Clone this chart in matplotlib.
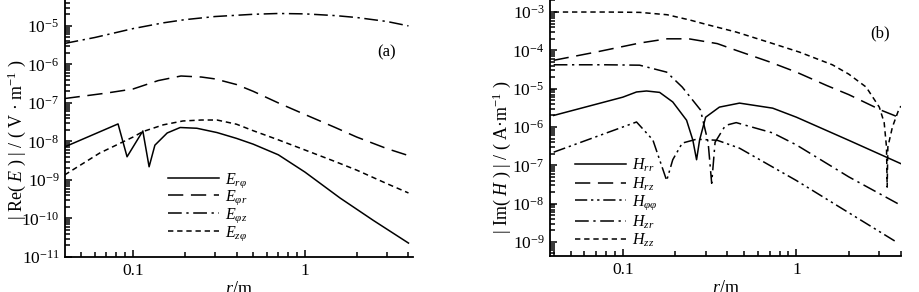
import matplotlib
matplotlib.use("Agg")
import matplotlib.pyplot as plt
from matplotlib.ticker import LogLocator, NullFormatter

plt.rcParams['font.family'] = ['Liberation Serif', 'DejaVu Serif']
plt.rcParams['mathtext.fontset'] = 'custom'
plt.rcParams['mathtext.rm'] = 'Liberation Serif'
plt.rcParams['mathtext.it'] = 'Liberation Serif:italic'
plt.rcParams['mathtext.bf'] = 'Liberation Serif:bold'
plt.rcParams['axes.unicode_minus'] = False

# ---------------- panel (a) data ----------------
r_E_rphi = [0.04, 0.0818, 0.0923, 0.114, 0.124, 0.134, 0.158, 0.188, 0.235, 0.308, 0.4, 0.5, 0.7, 1.0, 1.6, 2.5, 4.0]
E_rphi   = [7.2e-9, 2.85e-8, 4.0e-9, 1.87e-8, 2.2e-9, 8e-9, 1.66e-8, 2.3e-8, 2.2e-8, 1.7e-8, 1.2e-8, 8.5e-9, 4.5e-9, 1.6e-9, 3.4e-10, 8.9e-11, 2.3e-11]

r_E_phir = [0.04, 0.07, 0.1, 0.14, 0.19, 0.25, 0.3, 0.4, 0.5, 0.7, 1.0, 1.5, 2.0, 3.0, 4.0]
E_phir   = [1.3e-7, 1.8e-7, 2.3e-7, 3.8e-7, 5e-7, 4.7e-7, 4.2e-7, 3e-7, 2e-7, 1e-7, 5e-8, 2.3e-8, 1.3e-8, 6.5e-9, 4.3e-9]

r_E_phiz = [0.04, 0.06, 0.1, 0.15, 0.2, 0.3, 0.5, 0.7, 1.0, 1.5, 2.0, 3.0, 4.0]
E_phiz   = [3.5e-6, 5e-6, 8.5e-6, 1.2e-5, 1.45e-5, 1.75e-5, 2.0e-5, 2.1e-5, 2.05e-5, 1.85e-5, 1.65e-5, 1.3e-5, 1.0e-5]

r_E_zphi = [0.04, 0.064, 0.1, 0.114, 0.15, 0.195, 0.25, 0.308, 0.4, 0.5, 0.7, 1.0, 1.5, 2.0, 3.0, 4.0]
E_zphi   = [1.35e-9, 5e-9, 1.3e-8, 1.8e-8, 2.7e-8, 3.4e-8, 3.6e-8, 3.6e-8, 2.8e-8, 1.9e-8, 1.1e-8, 6e-9, 3e-9, 1.8e-9, 8e-10, 4.6e-10]

# ---------------- panel (b) data ----------------
r_H_rr = [0.04, 0.1, 0.12, 0.137, 0.163, 0.194, 0.233, 0.253, 0.266, 0.277, 0.30, 0.36, 0.47, 0.73, 1.0, 2.0, 4.0]
H_rr   = [2e-6, 6e-6, 8.2e-6, 8.7e-6, 8e-6, 4.5e-6, 1.5e-6, 4.6e-7, 1.4e-7, 4.6e-7, 1.8e-6, 3.3e-6, 4.2e-6, 3.1e-6, 1.8e-6, 4.5e-7, 1.1e-7]

r_H_rz = [0.04, 0.07, 0.125, 0.18, 0.24, 0.35, 0.45, 0.7, 1.0, 1.5, 2.0, 3.1, 4.0]
H_rz   = [5.5e-5, 9e-5, 1.55e-4, 2e-4, 2e-4, 1.5e-4, 1e-4, 5e-5, 2.7e-5, 1.2e-5, 7e-6, 2.7e-6, 1.7e-6]

r_H_phiphi = [0.04, 0.12, 0.149, 0.179, 0.194, 0.22, 0.266, 0.35, 0.47, 0.73, 1.0, 2.0, 3.76]
H_phiphi   = [2.2e-7, 1.35e-6, 4.6e-7, 4e-8, 1.4e-7, 3.8e-7, 4.8e-7, 4.5e-7, 2.8e-7, 9e-8, 4e-8, 5.8e-9, 1e-9]

r_H_zr = [0.04, 0.08, 0.125, 0.179, 0.194, 0.22, 0.28, 0.31, 0.325, 0.34, 0.39, 0.45, 0.73, 1.0, 2.0, 4.0]
H_zr   = [4.2e-5, 4.2e-5, 4.1e-5, 2.7e-5, 1.9e-5, 1.1e-5, 2.8e-6, 4e-7, 3.4e-8, 4e-7, 1.1e-6, 1.3e-6, 7e-7, 3.4e-7, 5e-8, 9e-9]

r_H_zz = [0.04, 0.08, 0.125, 0.18, 0.243, 0.3, 0.45, 0.7, 1.04, 1.61, 2.0, 2.52, 3.0, 3.2, 3.3, 3.33, 3.36, 3.57, 3.9, 4.0]
H_zz   = [1e-3, 1e-3, 9.8e-4, 8.5e-4, 6.2e-4, 4.8e-4, 3e-4, 1.6e-4, 9e-5, 4.2e-5, 2.4e-5, 1.1e-5, 3.3e-6, 1.3e-6, 3e-7, 2.7e-8, 3e-7, 1e-6, 3e-6, 3.5e-6]

labels_a = [r'$E_{r\varphi}$', r'$E_{\varphi r}$', r'$E_{\varphi z}$', r'$E_{z\varphi}$']
labels_b = [r'$H_{rr}$', r'$H_{rz}$', r'$H_{\varphi\varphi}$', r'$H_{zr}$', r'$H_{zz}$']

SOLID = '-'
DASH = (0, (10, 5))
DASHDOT = (0, (9, 3, 1.5, 3))
SHORT = (0, (3.5, 2.5))
DASHDOTDOT = (0, (8, 2.5, 1.5, 2.5, 1.5, 2.5))

W, H = 920, 292
fig = plt.figure(figsize=(W / 100, H / 100), dpi=100)

def px_axes(x0, x1, ytop, ybot):
    return fig.add_axes([x0 / W, 1 - ybot / H, (x1 - x0) / W, (ybot - ytop) / H])

axa = px_axes(65, 413, 0, 257)
axb = px_axes(550, 901, 0, 256)

lw = 1.1
for ax in (axa, axb):
    ax.set_xscale('log')
    ax.set_yscale('log')
    for s in ('top', 'right'):
        ax.spines[s].set_visible(False)
    for s in ('left', 'bottom'):
        ax.spines[s].set_linewidth(1.3)
    ax.tick_params(which='both', direction='in', width=1.1, labelsize=12.5, pad=4)
    ax.tick_params(which='major', length=5)
    ax.tick_params(which='minor', length=3.5)
    ax.yaxis.set_major_locator(LogLocator(base=10, numticks=20))
    ax.yaxis.set_minor_locator(LogLocator(base=10, subs=range(2, 10), numticks=20))
    ax.yaxis.set_minor_formatter(NullFormatter())
    ax.xaxis.set_minor_formatter(NullFormatter())

# panel (a)
axa.plot(r_E_rphi, E_rphi, color='black', lw=lw, linestyle=SOLID, label=labels_a[0])
axa.plot(r_E_phir, E_phir, color='black', lw=lw, linestyle=DASH, label=labels_a[1])
axa.plot(r_E_phiz, E_phiz, color='black', lw=lw, linestyle=DASHDOT, label=labels_a[2])
axa.plot(r_E_zphi, E_zphi, color='black', lw=lw, linestyle=SHORT, label=labels_a[3])
axa.set_xlim(0.0402, 4.25)
axa.set_ylim(1e-11, 4.7e-5)
axa.set_xticks([0.1, 1])
axa.set_xticklabels(['0.1', '1'])
axa.set_xlabel(r'$r$/m', fontsize=13, labelpad=2)
axa.set_ylabel(r'| Re( $E$ ) | / ( V · m$^{-1}$ )', fontsize=13)
axa.yaxis.set_label_coords(-0.106, 0.455)
axa.text(387, H - 52, '(a)', transform=None, fontsize=12, ha='center', va='center')
axa.legend(loc='upper left', bbox_to_anchor=(168 / W, 1 - 171 / H), bbox_transform=fig.transFigure,
           frameon=False, fontsize=11.5, handlelength=3.2, handletextpad=0.4, labelspacing=-0.05,
           borderpad=0, borderaxespad=0)

# panel (b)
axb.plot(r_H_rr, H_rr, color='black', lw=lw, linestyle=SOLID, label=labels_b[0])
axb.plot(r_H_rz, H_rz, color='black', lw=lw, linestyle=DASH, label=labels_b[1])
axb.plot(r_H_phiphi, H_phiphi, color='black', lw=lw, linestyle=DASHDOTDOT, label=labels_b[2])
axb.plot(r_H_zr, H_zr, color='black', lw=lw, linestyle=DASHDOT, label=labels_b[3])
axb.plot(r_H_zz, H_zz, color='black', lw=lw, linestyle=SHORT, label=labels_b[4])
axb.set_xlim(0.0381, 4.0)
axb.set_ylim(4.3e-10, 2.06e-3)
axb.set_xticks([0.1, 1])
axb.set_xticklabels(['0.1', '1'])
axb.set_xlabel(r'$r$/m', fontsize=13, labelpad=2)
axb.set_ylabel(r'| Im( $H$ ) | / ( A·m$^{-1}$ )', fontsize=13)
axb.yaxis.set_label_coords(-0.104, 0.385)
axb.text(880, H - 33, '(b)', transform=None, fontsize=12, ha='center', va='center')
axb.legend(loc='upper left', bbox_to_anchor=(575 / W, 1 - 157 / H), bbox_transform=fig.transFigure,
           frameon=False, fontsize=11.5, handlelength=3.2, handletextpad=0.4, labelspacing=0.06,
           borderpad=0, borderaxespad=0)

fig.savefig('out.png', dpi=100)
